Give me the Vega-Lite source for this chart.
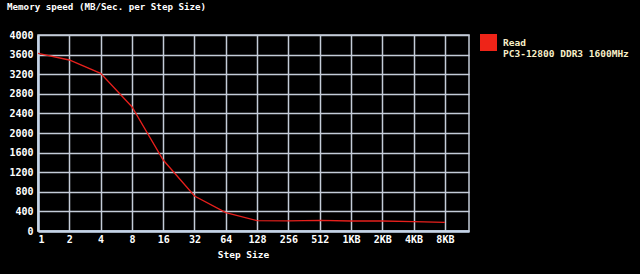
{
  "$schema": "https://vega.github.io/schema/vega-lite/v6.json",
  "autosize": {"type": "none"},
  "width": 431,
  "height": 196,
  "padding": {"left": 38, "top": 35, "right": 171, "bottom": 43},
  "background": "#000000",
  "view": {"stroke": "#c4ccd8", "strokeWidth": 1.5},
  "title": {
    "text": "Memory speed (MB/Sec. per Step Size)",
    "anchor": "start",
    "frame": "group",
    "dx": -31,
    "offset": 18,
    "color": "#ffffff",
    "font": "DejaVu Sans Mono",
    "fontSize": 9.2,
    "fontWeight": "bold"
  },
  "data": {
    "values": [
      {"idx": 0, "step": "1", "speed": 3625, "series": "Read"},
      {"idx": 1, "step": "2", "speed": 3490, "series": "Read"},
      {"idx": 2, "step": "4", "speed": 3218, "series": "Read"},
      {"idx": 3, "step": "8", "speed": 2537, "series": "Read"},
      {"idx": 4, "step": "16", "speed": 1449, "series": "Read"},
      {"idx": 5, "step": "32", "speed": 714, "series": "Read"},
      {"idx": 6, "step": "64", "speed": 374, "series": "Read"},
      {"idx": 7, "step": "128", "speed": 210, "series": "Read"},
      {"idx": 8, "step": "256", "speed": 206, "series": "Read"},
      {"idx": 9, "step": "512", "speed": 215, "series": "Read"},
      {"idx": 10, "step": "1KB", "speed": 204, "series": "Read"},
      {"idx": 11, "step": "2KB", "speed": 204, "series": "Read"},
      {"idx": 12, "step": "4KB", "speed": 190, "series": "Read"},
      {"idx": 13, "step": "8KB", "speed": 178, "series": "Read"}
    ]
  },
  "mark": {"type": "line", "strokeWidth": 1.3},
  "encoding": {
    "x": {
      "field": "idx",
      "type": "quantitative",
      "scale": {"domain": [0, 13.77], "nice": false, "zero": false},
      "axis": {
        "values": [0,1,2,3,4,5,6,7,8,9,10,11,12,13],
        "labelExpr": "['1','2','4','8','16','32','64','128','256','512','1KB','2KB','4KB','8KB'][datum.value]",
        "title": "Step Size",
        "titleX": 205,
        "titleY": 18,
        "titleColor": "#ffffff",
        "titleFont": "DejaVu Sans Mono",
        "titleFontSize": 9.5,
        "titleFontWeight": "bold",
        "labelColor": "#ffffff",
        "labelFont": "DejaVu Sans Mono",
        "labelFontSize": 10,
        "labelFontWeight": "bold",
        "labelPadding": 3,
        "ticks": false,
        "domainColor": "#c4d4e8",
        "domainWidth": 2.5,
        "gridColor": "#c4ccd8",
        "gridWidth": 1.5,
        "gridOpacity": 1
      }
    },
    "y": {
      "field": "speed",
      "type": "quantitative",
      "scale": {"domain": [0, 4000], "nice": false},
      "axis": {
        "values": [0,400,800,1200,1600,2000,2400,2800,3200,3600,4000],
        "format": "d",
        "title": null,
        "labelColor": "#ffffff",
        "labelFont": "DejaVu Sans Mono",
        "labelFontSize": 10,
        "labelFontWeight": "bold",
        "labelPadding": 5,
        "ticks": false,
        "domainColor": "#c4d4e8",
        "domainWidth": 2.5,
        "gridColor": "#c4ccd8",
        "gridWidth": 1.5,
        "gridOpacity": 1
      }
    },
    "color": {
      "field": "series",
      "type": "nominal",
      "scale": {"domain": ["Read"], "range": ["#e8201c"]},
      "legend": {
        "orient": "none",
        "legendX": 442,
        "legendY": -1,
        "title": null,
        "symbolType": "square",
        "symbolSize": 289,
        "symbolFillColor": "#ee2418",
        "symbolStrokeWidth": 0,
        "symbolOpacity": 1,
        "labelExpr": "['Read', 'PC3-12800 DDR3 1600MHz']",
        "labelColor": "#f8efc8",
        "labelFont": "DejaVu Sans Mono",
        "labelFontSize": 9.5,
        "labelFontWeight": "bold",
        "labelOffset": 6,
        "labelLimit": 300
      }
    }
  }
}
